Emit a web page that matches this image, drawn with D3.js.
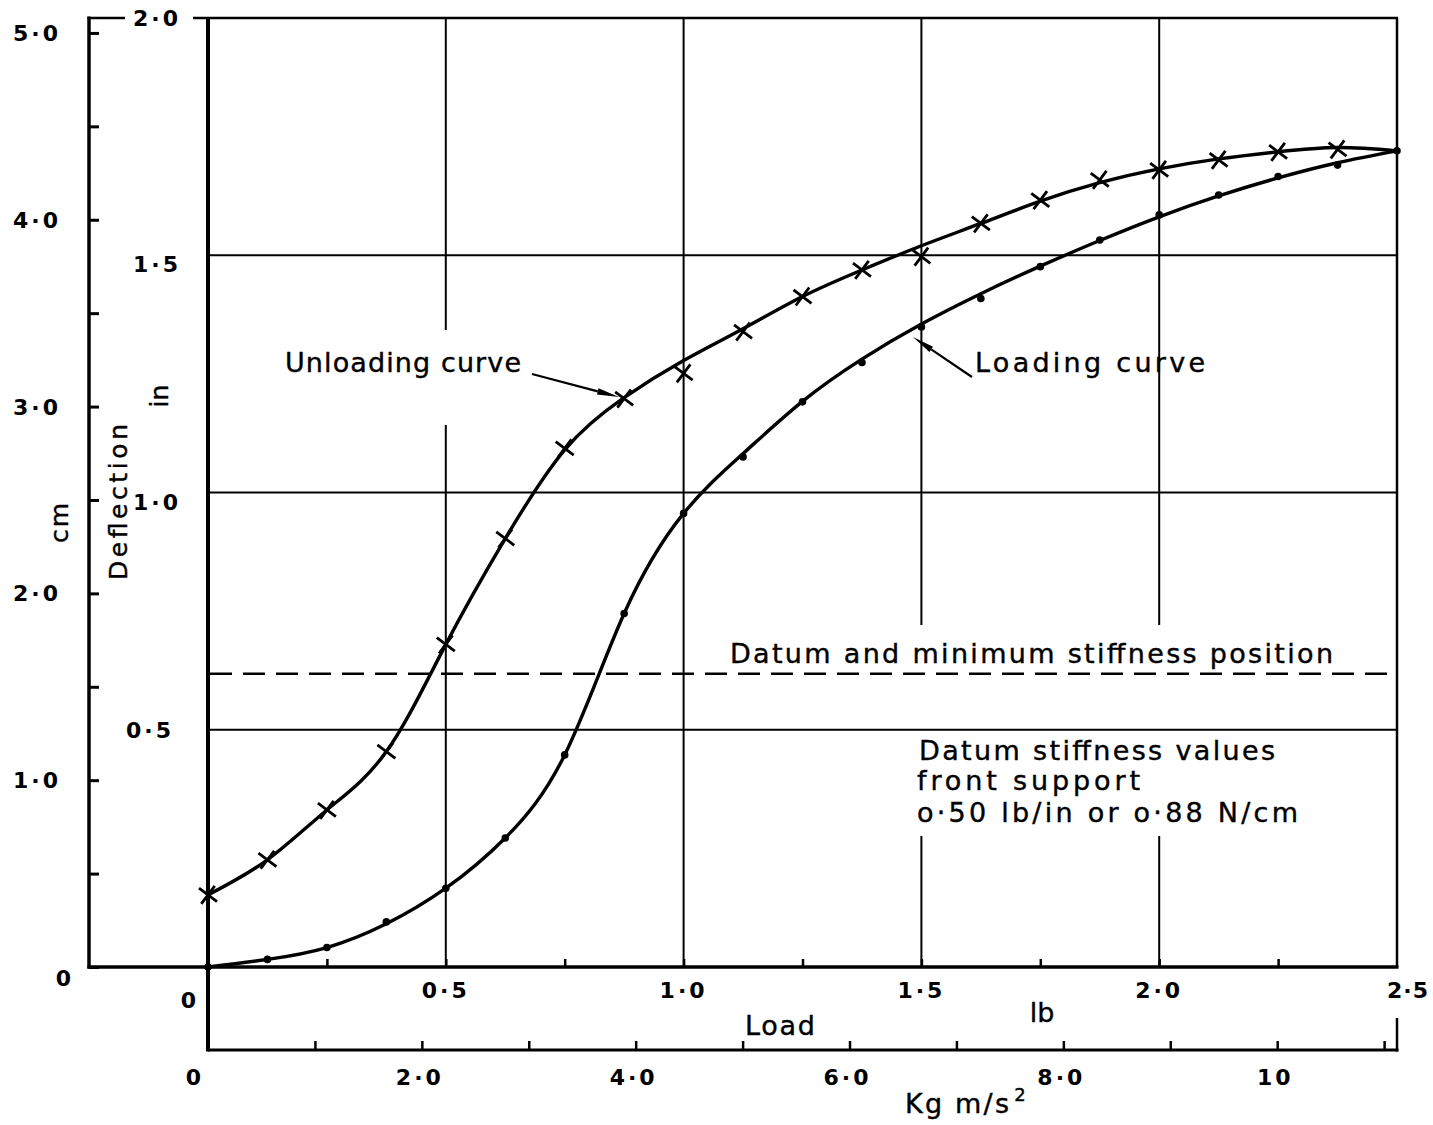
<!DOCTYPE html>
<html>
<head>
<meta charset="utf-8">
<script src="https://cdn.jsdelivr.net/npm/d3@7"></script>
<style>
  body { margin: 0; background: #fff; }
  svg text { font-family: "DejaVu Sans", "Liberation Sans", sans-serif; fill: #000; }
</style>
</head>
<body>
<svg id="chart" width="1433" height="1125"></svg>
<script>
// ---- data ----------------------------------------------------------------
// Load (lb) at which deflection was read
const loadLb = [0, 0.125, 0.25, 0.375, 0.5, 0.625, 0.75, 0.875, 1.0, 1.125, 1.25,
                1.375, 1.5, 1.625, 1.75, 1.875, 2.0, 2.125, 2.25, 2.375, 2.5];

// Loading readings (dots), deflection in inches
const loadingIn = [0.000, 0.016, 0.041, 0.095, 0.166, 0.272, 0.447, 0.745, 0.956, 1.075, 1.191,
                   1.274, 1.349, 1.409, 1.476, 1.532, 1.585, 1.627, 1.666, 1.690, 1.720];

// Faired loading curve
const loadingCurveIn = [0.000, 0.016, 0.041, 0.091, 0.166, 0.272, 0.447, 0.745, 0.956, 1.082, 1.192,
                        1.281, 1.355, 1.419, 1.477, 1.531, 1.581, 1.625, 1.663, 1.695, 1.720];

// Unloading readings (crosses), 0 – 2.375 lb
const unloadingIn = [0.152, 0.226, 0.331, 0.454, 0.680, 0.903, 1.093, 1.198, 1.251, 1.339,
                     1.413, 1.469, 1.497, 1.567, 1.616, 1.659, 1.680, 1.701, 1.718, 1.723];

// Faired unloading curve, 0 – 2.5 lb
const unloadingCurveIn = [0.152, 0.226, 0.331, 0.454, 0.680, 0.903, 1.090, 1.200, 1.278, 1.345, 1.413,
                          1.469, 1.520, 1.567, 1.614, 1.653, 1.682, 1.703, 1.718, 1.727, 1.720];

// Datum (minimum stiffness) deflection, inches
const datumIn = 0.618;

// Axis ticks and labels
const cmTicks = [0, 0.5, 1, 1.5, 2, 2.5, 3, 3.5, 4, 4.5, 5];
const cmLabelValues = [1, 2, 3, 4, 5];
const cmLabelText = ["1·0", "2·0", "3·0", "4·0", "5·0"];

const inGrid = [0.5, 1.0, 1.5];
const inLabelValues = [0.5, 1.0, 1.5, 2.0];
const inLabelText = ["0·5", "1·0", "1·5", "2·0"];

const lbTicks = [0.25, 0.5, 0.75, 1.0, 1.25, 1.5, 1.75, 2.0, 2.25];
const lbGrid = [0.5, 1.0, 1.5, 2.0];
const lbLabelValues = [0.5, 1.0, 1.5, 2.0, 2.5];
const lbLabelText = ["0·5", "1·0", "1·5", "2·0", "2·5"];

const nTicks = [1, 2, 3, 4, 5, 6, 7, 8, 9, 10, 11];
const nLabelValues = [0, 2, 4, 6, 8, 10];
const nLabelText = ["0", "2·0", "4·0", "6·0", "8·0", "10"];

const LB_TO_N = 4.448222;
const IN_TO_CM = 2.54;

// ---- scales ----------------------------------------------------------------
const x = d3.scaleLinear().domain([0, 2.5]).range([208, 1397]);
const xN = d3.scaleLinear().domain([0, 2.5 * LB_TO_N]).range([208, 1397]);
const y = d3.scaleLinear().domain([0, 2]).range([967, 18]);
const yCm = d3.scaleLinear().domain([0, 2 * IN_TO_CM]).range([967, 18]);

const svg = d3.select("#chart");
const ink = "#000";

function hline(g, x1, x2, yy, w) {
  g.append("line").attr("x1", x1).attr("x2", x2).attr("y1", yy).attr("y2", yy)
    .attr("stroke", ink).attr("stroke-width", w);
}
function vline(g, xx, y1, y2, w) {
  g.append("line").attr("x1", xx).attr("x2", xx).attr("y1", y1).attr("y2", y2)
    .attr("stroke", ink).attr("stroke-width", w);
}

// ---- grid ------------------------------------------------------------------
const grid = svg.append("g");
inGrid.forEach(v => hline(grid, x(0), x(2.5), y(v), 2));

// vertical grid lines, broken where the notes sit
const gridGaps = { 0.5: [[330, 425]], 1.0: [], 1.5: [[625, 836]], 2.0: [[625, 836]] };
lbGrid.forEach(v => {
  let top = y(2);
  const gaps = gridGaps[v] || [];
  gaps.forEach(([a, b]) => { vline(grid, x(v), top, a, 2); top = b; });
  vline(grid, x(v), top, y(0), 2);
});

// datum line
svg.append("line")
  .attr("x1", x(0) + 2).attr("x2", x(2.5))
  .attr("y1", y(datumIn)).attr("y2", y(datumIn))
  .attr("stroke", ink).attr("stroke-width", 2.6)
  .attr("stroke-dasharray", "22,11");

// ---- frame and axes --------------------------------------------------------
const frame = svg.append("g");
const cmX = 89;
vline(frame, cmX, 16.5, y(0) + 1.5, 3.5);               // cm axis
hline(frame, cmX - 1.5, 125, y(2), 2.5);                  // top, left piece
hline(frame, 193, x(2.5) + 1, y(2), 2.5);                 // top border
vline(frame, x(2.5), y(2), y(0), 2.5);                    // right border
vline(frame, x(0), y(2) - 1, 1051.5, 4);                  // inch axis, runs down to N axis
hline(frame, cmX - 1.5, x(2.5) + 1.5, y(0), 3.5);         // lb axis
const nY = 1050;
hline(frame, x(0), x(2.5) + 1.5, nY, 3.2);                // N axis
vline(frame, x(2.5), 1018, nY + 1.5, 2.5);

// cm ticks (inward)
svg.append("g").attr("transform", `translate(${cmX},0)`)
  .call(d3.axisRight(yCm).tickValues(cmTicks).tickSize(10).tickFormat(""))
  .call(g => g.select(".domain").remove())
  .call(g => g.selectAll("line").attr("stroke", ink).attr("stroke-width", 3));

// lb ticks (upward)
svg.append("g").attr("transform", `translate(0,${y(0)})`)
  .call(d3.axisTop(x).tickValues(lbTicks).tickSize(8).tickFormat(""))
  .call(g => g.select(".domain").remove())
  .call(g => g.selectAll("line").attr("stroke", ink).attr("stroke-width", 2.5));

// N ticks (upward)
svg.append("g").attr("transform", `translate(0,${nY})`)
  .call(d3.axisTop(xN).tickValues(nTicks).tickSize(9).tickFormat(""))
  .call(g => g.select(".domain").remove())
  .call(g => g.selectAll("line").attr("stroke", ink).attr("stroke-width", 2.5));

// ---- tick labels -----------------------------------------------------------
const num = svg.append("g").attr("font-size", 22).attr("font-weight", "bold")
  .attr("letter-spacing", 3);

cmLabelValues.forEach((v, i) => {
  num.append("text").attr("x", 37).attr("y", yCm(v) + 8)
    .attr("text-anchor", "middle").text(cmLabelText[i]);
});
num.append("text").attr("x", 65).attr("y", y(0) + 19).attr("text-anchor", "middle").text("0");

inLabelValues.forEach((v, i) => {
  const dy = v === 2.0 ? 8 : v === 0.5 ? 8 : 17;
  const cx = v === 0.5 ? 150 : 157;
  num.append("text").attr("x", cx).attr("y", y(v) + dy)
    .attr("text-anchor", "middle").text(inLabelText[i]);
});

lbLabelValues.forEach((v, i) => {
  const last = v === 2.5;
  num.append("text").attr("x", x(v) + (last ? 11 : 0)).attr("y", y(0) + 31)
    .attr("letter-spacing", last ? 1 : 3)
    .attr("text-anchor", "middle").text(lbLabelText[i]);
});
num.append("text").attr("x", 190).attr("y", y(0) + 41).attr("text-anchor", "middle").text("0");

nLabelValues.forEach((v, i) => {
  num.append("text").attr("x", xN(v) - (v === 0 ? 13 : 2)).attr("y", nY + 35)
    .attr("text-anchor", "middle").text(nLabelText[i]);
});

// ---- axis titles -----------------------------------------------------------
const titles = svg.append("g").attr("font-size", 25)
  .attr("stroke", ink).attr("stroke-width", 0.4);
titles.append("text").attr("transform", "translate(127,502) rotate(-90)")
  .attr("text-anchor", "middle").attr("textLength", 156).attr("lengthAdjust", "spacing")
  .text("Deflection");
titles.append("text").attr("transform", "translate(68,522) rotate(-90)")
  .attr("text-anchor", "middle").attr("letter-spacing", 2).text("cm");
titles.append("text").attr("transform", "translate(168,396) rotate(-90)")
  .attr("text-anchor", "middle").text("in");
titles.append("text").attr("x", 745).attr("y", 1035)
  .attr("textLength", 70).attr("lengthAdjust", "spacing").attr("font-size", 27).text("Load");
titles.append("text").attr("x", 1042).attr("y", 1022).attr("text-anchor", "middle")
  .attr("font-size", 27).text("lb");
const kg = titles.append("text").attr("x", 905).attr("y", 1113).attr("font-size", 27);
kg.append("tspan").attr("textLength", 104).attr("lengthAdjust", "spacing").text("Kg m/s");
kg.append("tspan").attr("dx", 3).attr("dy", -12).attr("font-size", 18).text("2");

// ---- curves ----------------------------------------------------------------
const line = d3.line().curve(d3.curveNatural);

svg.append("path")
  .attr("d", line(loadLb.map((v, i) => [x(v), y(unloadingCurveIn[i])])))
  .attr("fill", "none").attr("stroke", ink).attr("stroke-width", 3.4);

svg.append("path")
  .attr("d", line(loadLb.map((v, i) => [x(v), y(loadingCurveIn[i])])))
  .attr("fill", "none").attr("stroke", ink).attr("stroke-width", 3.4);

// crosses: unloading readings
const cross = svg.append("g");
unloadingIn.forEach((v, i) => {
  const cx = x(loadLb[i]), cy = y(v), r = 9;
  cross.append("path")
    .attr("d", `M${cx - r},${cy - r * 0.75}L${cx + r},${cy + r * 0.75}M${cx - r * 0.75},${cy + r}L${cx + r * 0.75},${cy - r}`)
    .attr("stroke", ink).attr("stroke-width", 2.8).attr("fill", "none");
});

// dots: loading readings
svg.append("g").selectAll("circle").data(loadingIn).join("circle")
  .attr("cx", (d, i) => x(loadLb[i])).attr("cy", d => y(d)).attr("r", 3.8).attr("fill", ink);

// ---- notes and leaders ---------------------------------------------------
const notes = svg.append("g").attr("font-size", 27)
  .attr("stroke", ink).attr("stroke-width", 0.4);
notes.append("text").attr("x", 285).attr("y", 372)
  .attr("textLength", 236).attr("lengthAdjust", "spacing").text("Unloading curve");
notes.append("text").attr("x", 975).attr("y", 372)
  .attr("textLength", 230).attr("lengthAdjust", "spacing").text("Loading curve");
notes.append("text").attr("x", 730).attr("y", 663)
  .attr("textLength", 603).attr("lengthAdjust", "spacing").text("Datum  and  minimum  stiffness  position");
notes.append("text").attr("x", 919).attr("y", 760)
  .attr("textLength", 356).attr("lengthAdjust", "spacing").text("Datum  stiffness  values");
notes.append("text").attr("x", 917).attr("y", 790)
  .attr("textLength", 223).attr("lengthAdjust", "spacing").text("front  support");
notes.append("text").attr("x", 917).attr("y", 822)
  .attr("textLength", 381).attr("lengthAdjust", "spacing").text("o·50 lb/in  or  o·88 N/cm");

function leader(x1, y1, x2, y2) {
  const ang = Math.atan2(y2 - y1, x2 - x1);
  const len = 22, half = 3.2;
  const bx = x2 - len * Math.cos(ang), by = y2 - len * Math.sin(ang);
  const px = -Math.sin(ang) * half, py = Math.cos(ang) * half;
  svg.append("line").attr("x1", x1).attr("y1", y1).attr("x2", bx).attr("y2", by)
    .attr("stroke", ink).attr("stroke-width", 2.2);
  svg.append("path")
    .attr("d", `M${x2},${y2}L${bx + px},${by + py}L${bx - px},${by - py}Z`)
    .attr("fill", ink);
}
leader(532, 374, 619, 397);
leader(972, 377, 913, 337);
</script>
</body>
</html>
